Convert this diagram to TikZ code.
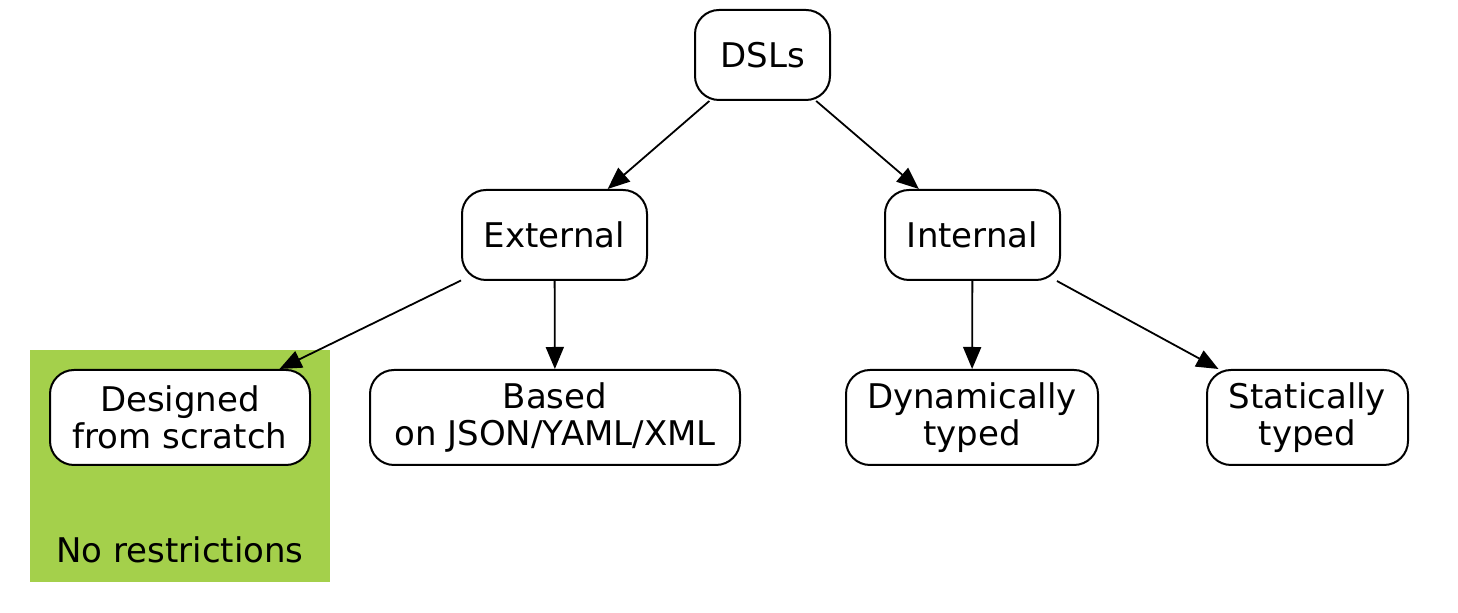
\documentclass[tikz,border=0pt]{standalone}
\usepackage{fontspec}
\setmainfont{DejaVu Sans}
\usetikzlibrary{arrows.meta}
\definecolor{clustergreen}{HTML}{A4D04B}
\begin{document}
\begin{tikzpicture}[x=0.5pt,y=-0.5pt,
  box/.style={draw,line width=1pt,rounded corners=12pt,fill=white,inner sep=0pt,align=center,
    font=\fontsize{17}{18.5}\selectfont},
  lbl/.style={inner sep=0pt,font=\fontsize{17}{18.5}\selectfont},
  edge/.style={line width=0.9pt,-{Triangle[length=11pt,width=9pt]}}]
\useasboundingbox (0,0) rectangle (1458,613);
% cluster
\fill[clustergreen] (30,350) rectangle (330,582);
\node[lbl] (clusterlabel) at (180,550) {No restrictions};
% nodes
\node[box,minimum width=67.5pt,minimum height=45pt] (dsls) at (762.5,55) {DSLs};
\node[box,minimum width=92.5pt,minimum height=45pt] (external) at (554.5,235) {External};
\node[box,minimum width=87.5pt,minimum height=45pt] (internal) at (972.5,235) {Internal};
\node[box,minimum width=130pt,minimum height=47.5pt] (scratch) at (180,417.5) {Designed\\from scratch};
\node[box,minimum width=185pt,minimum height=47.5pt] (based) at (555,417.5) {Based\\on JSON/YAML/XML};
\node[box,minimum width=126pt,minimum height=47.5pt] (dynamic) at (972,417.5) {Dynamically\\typed};
\node[box,minimum width=100.5pt,minimum height=47.5pt] (static) at (1307.5,417.5) {Statically\\typed};
% edges
\draw[edge] (dsls) -- (external);
\draw[edge] (dsls) -- (internal);
\draw[edge] (external) -- (scratch);
\draw[edge] (external) -- (based);
\draw[edge] (internal) -- (dynamic);
\draw[edge] (internal) -- (static);
\end{tikzpicture}
\end{document}
